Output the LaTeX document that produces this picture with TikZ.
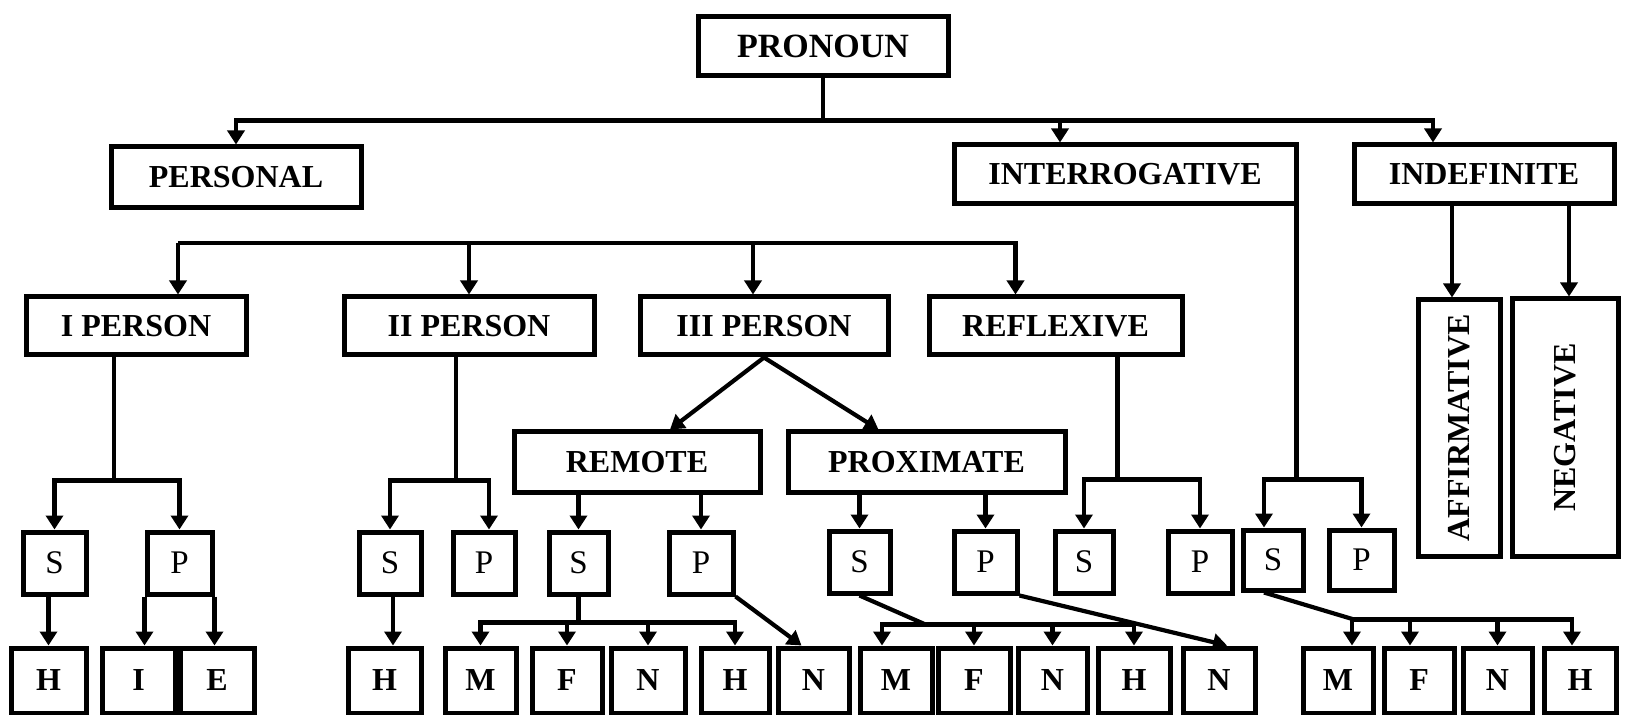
\documentclass[tikz,border=0pt]{standalone}
\usepackage{fontspec}
\setmainfont{Liberation Serif}
\usepackage{graphicx}
\usetikzlibrary{arrows.meta}
\tikzset{
  box/.style={draw, line width=2.5pt, inner sep=0pt, font=\fontsize{16}{18}\selectfont\bfseries},
  lt/.style={font=\fontsize{16.5}{18}\selectfont\mdseries},
  conn/.style={line width=2.1pt},
  arr/.style={conn, -{Triangle[length=7pt,width=8.5pt]}}
}
\newcommand\bx[7][]{%
  \pgfmathsetmacro\bxw{(#5-#3)*0.5}%
  \pgfmathsetmacro\bxh{(#6-#4)*0.5}%
  \node[box,minimum width=\bxw pt,minimum height=\bxh pt,#1] (#2) at ({(#3+#5)/2},{(#4+#6)/2}) {#7};}
\begin{document}
\begin{tikzpicture}[x=0.5pt,y=-0.5pt]
\useasboundingbox (0,0) rectangle (1631,715);
% level 0/1
\bx[font=\fontsize{17}{19}\selectfont\bfseries]{pronoun}{698}{17}{948}{76}{PRONOUN}
\bx{personal}{111}{147}{361}{208}{PERSONAL}
\bx{interrog}{954}{145}{1296}{204}{INTERROGATIVE}
\bx{indef}{1354}{145}{1614}{204}{INDEFINITE}
\bx{affirm}{1418}{300}{1500}{556}{\rotatebox{90}{AFFIRMATIVE}}
\bx{negative}{1512}{299}{1618}{556}{\rotatebox{90}{NEGATIVE}}
% level 2
\bx{ip}{26}{297}{246}{355}{I PERSON}
\bx{iip}{344}{297}{594}{355}{II PERSON}
\bx{iiip}{640}{297}{888}{355}{III PERSON}
\bx{refl}{929}{297}{1182}{355}{REFLEXIVE}
\bx{remote}{514}{432}{760}{492}{REMOTE}
\bx{prox}{788}{432}{1065}{492}{PROXIMATE}
% S / P row
\bx[lt]{s1}{23}{532}{86}{594}{S}
\bx[lt]{p1}{147}{532}{212}{594}{P}
\bx[lt]{s2}{359}{532}{421}{594}{S}
\bx[lt]{p2}{453}{532}{515}{594}{P}
\bx[lt]{s3}{549}{532}{608}{594}{S}
\bx[lt]{p3}{669}{532}{733}{594}{P}
\bx[lt]{s4}{829}{531}{890}{593}{S}
\bx[lt]{p4}{954}{531}{1017}{593}{P}
\bx[lt]{s5}{1055}{531}{1113}{593}{S}
\bx[lt]{p5}{1168}{531}{1232}{593}{P}
\bx[lt]{s6}{1243}{530}{1303}{590}{S}
\bx[lt]{p6}{1329}{530}{1394}{590}{P}
% bottom row
\bx{h1}{11}{648}{86}{713}{H}
\bx{i1}{102}{648}{175}{713}{I}
\bx{e1}{180}{648}{254}{713}{E}
\bx{h2}{348}{648}{421}{713}{H}
\bx{m3}{445}{648}{516}{713}{M}
\bx{f3}{532}{648}{602}{713}{F}
\bx{n3}{611}{648}{685}{713}{N}
\bx{h3}{701}{648}{769}{713}{H}
\bx{n3b}{778}{648}{849}{713}{N}
\bx{m4}{860}{648}{932}{713}{M}
\bx{f4}{938}{648}{1010}{713}{F}
\bx{n4}{1018}{648}{1087}{713}{N}
\bx{h4}{1098}{648}{1170}{713}{H}
\bx{n4b}{1183}{648}{1255}{713}{N}
\bx{m6}{1303}{648}{1373}{713}{M}
\bx{f6}{1384}{648}{1454}{713}{F}
\bx{n6}{1463}{648}{1532}{713}{N}
\bx{h6}{1544}{648}{1616}{713}{H}
% connectors: top
\draw[conn] (pronoun.south) -- ++(0,42) coordinate (b0);
\draw[arr] (b0) -| (personal.north);
\draw[arr] (b0) -| ([xshift=-32.5pt]interrog.north);
\draw[arr] (b0) -| ([xshift=-25.5pt]indef.north);
% indefinite
\coordinate (ad) at ([xshift=-3.5pt]affirm.north);
\coordinate (nd) at ([xshift=2pt]negative.north);
\draw[arr] (indef.south -| ad) -- (ad);
\draw[arr] (indef.south -| nd) -- (nd);
% level-2 bar
\coordinate (l2) at (178,243);
\draw[arr] (l2) -- ([xshift=21pt]ip.north);
\draw[arr] (l2) -| (iip.north);
\draw[arr] (l2) -| ([xshift=-5.5pt]iiip.north);
\draw[arr] (l2) -| ([xshift=-20pt]refl.north);
% I person
\coordinate (ipd) at ([xshift=-11pt]ip.south);
\draw[conn] (ipd) -- ++(0,123) coordinate (ipb);
\draw[arr] (ipb) -| (s1.north);
\draw[arr] (ipb) -| (p1.north);
\draw[arr] (s1.south -| h1.north) -- (h1.north);
\draw[arr] (p1.south west) -- (p1.south west |- i1.north);
\draw[arr] (p1.south east) -- (p1.south east |- e1.north);
% II person
\coordinate (iipd) at ([xshift=-6.5pt]iip.south);
\draw[conn] (iipd) -- ++(0,123) coordinate (iipb);
\draw[arr] (iipb) -| (s2.north);
\draw[arr] (iipb) -| ([xshift=2.5pt]p2.north);
\coordinate (s2d) at ([xshift=1.5pt]s2.south);
\draw[arr] (s2d) -- (s2d |- h2.north);
% III person
\draw[arr] (iiip.south) -- ([xshift=16.5pt]remote.north);
\draw[arr] (iiip.south) -- ([xshift=-24pt]prox.north);
\draw[arr] (s3.north |- remote.south) -- (s3.north);
\draw[arr] (p3.north |- remote.south) -- (p3.north);
\draw[arr] (s4.north |- prox.south) -- (s4.north);
\draw[arr] (p4.north |- prox.south) -- (p4.north);
% reflexive
\coordinate (rd) at ([xshift=31pt]refl.south);
\draw[conn] (rd) -- ++(0,122) coordinate (rb);
\draw[arr] (rb) -| (s5.north);
\draw[arr] (rb) -| (p5.north);
% interrogative
\coordinate (qd) at ([xshift=-1pt]interrog.south east);
\draw[conn] (qd) -- ++(0,273) coordinate (qb);
\draw[arr] (qb) -| ([xshift=-4.5pt]s6.north);
\draw[arr] (qb) -| (p6.north);
% remote S / P
\draw[conn] (s3.south) -- ++(0,26) coordinate (s3b);
\draw[arr] (s3b) -| (m3.north);
\draw[arr] (s3b) -| (f3.north);
\draw[arr] (s3b) -| (n3.north);
\draw[arr] (s3b) -| (h3.north);
\draw[arr] (p3.south east) -- ([xshift=-6pt]n3b.north);
% proximate S / P
\draw[conn] (s4.south) -- ++(66,29) coordinate (s4b);
\draw[arr] (s4b) -| ([xshift=-7pt]m4.north);
\draw[arr] (s4b) -| (f4.north);
\draw[arr] (s4b) -| (n4.north);
\draw[arr] (s4b) -| (h4.north);
\draw[arr] (p4.south east) -- ([xshift=4pt]n4b.north);
% interrogative S
\coordinate (s6d) at ([xshift=-4.5pt]s6.south);
\draw[conn] (s6d) -- ++(90,27) coordinate (s6b);
\draw[arr] (s6b) -| ([xshift=7pt]m6.north);
\draw[arr] (s6b) -| ([xshift=-4.5pt]f6.north);
\draw[arr] (s6b) -| (n6.north);
\draw[arr] (s6b) -| ([xshift=-4pt]h6.north);
\end{tikzpicture}
\end{document}
